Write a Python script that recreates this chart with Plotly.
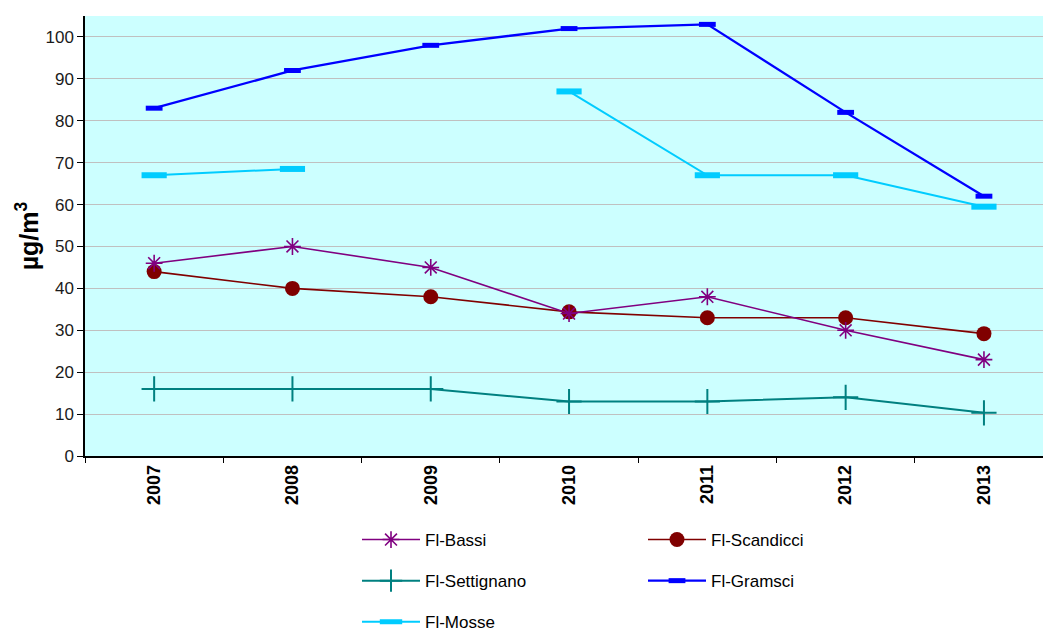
import plotly.graph_objects as go

# PM10 annual means at the Florence monitoring stations (µg/m³)
years = ["2007", "2008", "2009", "2010", "2011", "2012", "2013"]
fi_bassi = [46, 50, 45, 34, 38, 30, 23]
fi_scandicci = [44, 40, 38, 34.4, 33, 33, 29.2]
fi_settignano = [16, 16, 16, 13, 13, 14, 10.3]
fi_gramsci = [83, 92, 98, 102, 103, 82, 62]
fi_mosse = [67, 68.5, None, 87, 67, 67, 59.5]

FONT = "Arial, 'Liberation Sans', sans-serif"

# plot-area geometry in pixels, used to place the two legend columns
W, H = 1043, 632
ML, MR, MT, MB = 85, 0, 16, 176
PW, PH = W - ML - MR, H - MT - MB


def px_to_paper(xp, yp):
    return (xp - ML) / PW, (H - MB - yp) / PH


fig = go.Figure()

fig.add_trace(go.Scatter(
    x=years, y=fi_scandicci, name="Fl-Scandicci", mode="lines+markers",
    line=dict(color="#800000", width=1.6),
    marker=dict(symbol="circle", size=15, color="#800000"),
    legend="legend2", legendgroup="scandicci",
))
fig.add_trace(go.Scatter(
    x=years, y=fi_bassi, name="Fl-Bassi", mode="lines+markers",
    line=dict(color="#800080", width=1.6),
    marker=dict(symbol="asterisk-open", size=14,
                line=dict(color="#800080", width=1.6)),
    legend="legend", legendgroup="bassi",
))
fig.add_trace(go.Scatter(
    x=years, y=fi_settignano, name="Fl-Settignano", mode="lines+markers",
    line=dict(color="#008080", width=2),
    marker=dict(symbol="cross-thin-open", size=18,
                line=dict(color="#008080", width=2)),
    legend="legend", legendgroup="settignano",
))
fig.add_trace(go.Scatter(
    x=years, y=fi_gramsci, name="Fl-Gramsci", mode="lines+markers",
    line=dict(color="#0000FF", width=2.3),
    marker=dict(symbol="line-ew-open", size=12,
                line=dict(color="#0000FF", width=5)),
    legend="legend2", legendgroup="gramsci",
))
fig.add_trace(go.Scatter(
    x=years, y=fi_mosse, name="Fl-Mosse", mode="lines+markers",
    line=dict(color="#00CCFF", width=2),
    marker=dict(symbol="line-ew-open", size=18,
                line=dict(color="#00CCFF", width=6)),
    connectgaps=False,
    legend="legend", legendgroup="mosse",
))

legend_style = dict(
    xanchor="left", yanchor="top",
    orientation="v", font=dict(family=FONT, size=17, color="#000000"),
    itemwidth=58, tracegroupgap=16, bgcolor="rgba(0,0,0,0)",
)
l1x, l1y = px_to_paper(357, 522)
l2x, l2y = px_to_paper(643, 522)

fig.update_layout(
    width=W, height=H,
    margin=dict(l=ML, r=MR, t=MT, b=MB, autoexpand=False),
    paper_bgcolor="#FFFFFF",
    plot_bgcolor="#CCFFFF",
    font=dict(family=FONT, color="#000000"),
    showlegend=True,
    legend=dict(x=l1x, y=l1y, **legend_style),
    legend2=dict(x=l2x, y=l2y, **legend_style),
    xaxis=dict(
        type="category", range=[-0.5, 6.427],
        tickson="boundaries", ticks="outside", ticklen=5,
        tickcolor="#000000", tickwidth=1,
        showline=True, linecolor="#000000", linewidth=1.5,
        showgrid=False, tickangle=-90,
        tickfont=dict(family=FONT, size=18, weight="bold", color="#000000"),
    ),
    yaxis=dict(
        range=[0, 105], tick0=0, dtick=10,
        ticks="outside", ticklen=6, tickcolor="#000000", tickwidth=1,
        showline=True, linecolor="#000000", linewidth=1.5,
        showgrid=True, gridcolor="#C0C0C0", gridwidth=1.3,
        zeroline=False,
        tickfont=dict(family=FONT, size=17, color="#1a1a1a"),
        title=dict(text="µg/m<sup>3</sup>", standoff=0,
                   font=dict(family=FONT, size=25, weight="bold",
                             color="#000000")),
    ),
)

fig.write_html("out.html")
